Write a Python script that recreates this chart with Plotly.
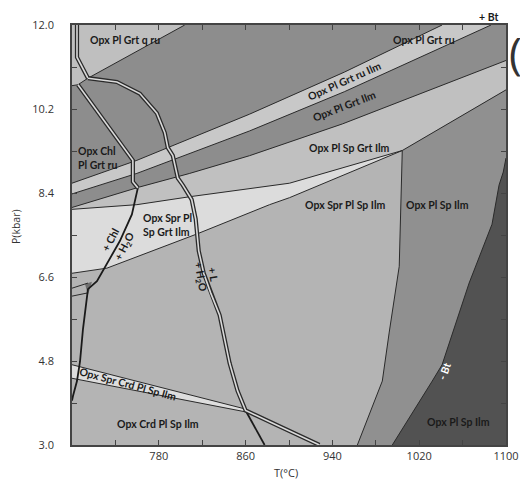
import plotly.graph_objects as go

# ---------------- axis ticks ----------------
T_TICKS = [740, 780, 820, 860, 900, 940, 980, 1020, 1060, 1100]
T_TICK_LABELS = ["", "780", "", "860", "", "940", "", "1020", "", "1100"]
P_TICKS = [3.0, 3.9, 4.8, 5.7, 6.6, 7.5, 8.4, 9.3, 10.2, 11.1, 12.0]
P_TICK_LABELS = ["3.0", "", "4.8", "", "6.6", "", "8.4", "", "10.2", "", "12.0"]

# ---------------- field boundaries (T in °C, P in kbar) ----------------
LINE_A_T = [1041.1, 951.0, 863.7, 808.5, 759.8, 700.0]
LINE_A_P = [12.0, 10.99, 10.09, 9.56, 9.10, 8.61]
LINE_B_T = [1086.2, 951.0, 863.7, 808.5, 759.8, 700.0]
LINE_B_P = [12.0, 10.57, 9.73, 9.25, 8.82, 8.38]
LINE_C_T = [1100.0, 949.2, 863.7, 808.5, 762.5, 700.0]
LINE_C_P = [11.24, 9.88, 9.20, 8.82, 8.53, 8.09]
LINE_D_T = [1100.0, 1004.4]
LINE_D_P = [10.61, 9.31]
WEDGE_UP_T = [1004.4, 900.5, 808.5, 759.8, 700.0]
WEDGE_UP_P = [9.31, 8.61, 8.32, 8.15, 8.05]
WEDGE_LO_T = [1004.4, 900.5, 882.1, 814.9, 732.2, 700.0]
WEDGE_LO_P = [9.31, 8.30, 8.15, 7.52, 6.79, 6.68]
SPR_OUT_T = [1004.4, 1003.4, 1001.6, 992.4, 986.0, 963.0]
SPR_OUT_P = [9.31, 8.57, 6.83, 5.42, 4.37, 3.0]
BT_OUT_T = [1100.0, 1097.5, 1093.6, 1087.1, 1066.0, 1041.1, 1032.0, 995.2]
BT_OUT_P = [9.15, 8.85, 8.57, 7.73, 6.47, 4.72, 4.37, 3.0]
QRU_T = [803.9, 714.7, 705.5, 700.0]
QRU_P = [12.0, 10.86, 10.72, 10.70]
TOPLEFT_T = [704.6, 704.6, 714.7]
TOPLEFT_P = [12.0, 11.31, 10.86]
CHL_EDGE_T = [705.5, 756.1, 756.1, 760.7]
CHL_EDGE_P = [10.72, 9.10, 8.64, 8.51]
CHL_OUT_T = [760.7, 755.2, 744.1, 732.2, 723.0, 714.7, 710.1, 707.4, 704.6, 700.9, 700.0]
CHL_OUT_P = [8.51, 7.94, 7.37, 6.89, 6.51, 6.34, 5.48, 4.79, 4.37, 4.05, 3.95]
MELT_T = [714.7, 741.4, 762.5, 778.2, 785.5, 788.3, 792.9, 797.5, 802.1, 810.3,
          814.0, 816.8, 821.4, 827.8, 836.1, 845.3, 852.6, 860.0, 882.1, 928.0]
MELT_P = [10.86, 10.78, 10.53, 10.11, 9.69, 9.37, 9.20, 8.72, 8.57, 8.26,
          7.84, 7.16, 6.68, 6.26, 5.78, 4.75, 4.16, 3.74, 3.50, 3.0]
CRD_UP_T = [700.0, 860.0]
CRD_UP_P = [4.72, 3.77]
CRD_LO_T = [700.0, 860.0]
CRD_LO_P = [4.43, 3.71]
CRD_TAIL_T = [860.0, 877.5]
CRD_TAIL_P = [3.74, 3.0]
SMALL_1_T = [700.0, 714.7]
SMALL_1_P = [6.36, 6.47]
SMALL_2_T = [700.0, 714.7]
SMALL_2_P = [6.19, 6.26]
SMALL_TRI_T = [712.0, 718.4, 714.7]
SMALL_TRI_P = [6.45, 6.50, 6.22]

# ---------------- field labels ----------------
LABELS = [
    # text, T, P, angle, colour
    ("Opx Pl Grt q ru", 748.7, 11.68, 0, "#1a1a1a"),
    ("Opx Pl Grt ru", 1024.6, 11.68, 0, "#1a1a1a"),
    ("Opx Pl Grt ru Ilm", 951.0, 10.80, -24, "#1a1a1a"),
    ("Opx Pl Grt Ilm", 951.0, 10.27, -21, "#1a1a1a"),
    ("Opx Pl Sp Grt Ilm", 955.6, 9.37, 0, "#1a1a1a"),
    ("Opx Chl<br>Pl Grt ru", 723.5, 9.16, 0, "#1a1a1a"),
    ("Opx Spr Pl<br>Sp Grt Ilm", 788.0, 7.71, 0, "#1a1a1a"),
    ("Opx Spr Pl Sp Ilm", 952.0, 8.15, 0, "#1a1a1a"),
    ("Opx Pl Sp Ilm", 1036.6, 8.15, 0, "#1a1a1a"),
    ("Opx Spr Crd Pl Sp Ilm", 751.5, 4.30, 15, "#1a1a1a"),
    ("Opx Crd Pl Sp Ilm", 779.0, 3.44, 0, "#1a1a1a"),
    ("Opx Pl Sp Ilm", 1055.9, 3.50, 0, "#1a1a1a"),
    ("- Bt", 1043.5, 4.58, -70, "#ffffff"),
    ("+ Chl", 735.0, 7.40, -62, "#1a1a1a"),
    ("+ H<sub>2</sub>O", 748.5, 7.25, -62, "#1a1a1a"),
    ("+ H<sub>2</sub>O", 818.0, 6.60, 80, "#1a1a1a"),
    ("+ L", 830.0, 6.66, 80, "#1a1a1a"),
]

FONT = "Lato"
LABEL_SIZE = 10.5

fig = go.Figure()


def poly(xs, ys, color):
    fig.add_trace(go.Scatter(x=xs, y=ys, fill="toself", fillcolor=color, mode="lines",
                             line=dict(width=0, color=color), hoverinfo="skip", showlegend=False))


def line(xs, ys, width=1.0, color="#2a2a2a"):
    fig.add_trace(go.Scatter(x=xs, y=ys, mode="lines", line=dict(width=width, color=color),
                             hoverinfo="skip", showlegend=False))


def dline(xs, ys):
    line(xs, ys, 4.2, "#2a2a2a")
    line(xs, ys, 1.6, "#dadada")


# fields
poly([700, 1100] + LINE_D_T + WEDGE_UP_T[1:], [12, 12] + LINE_D_P + WEDGE_UP_P[1:], "#c0c0c0")
poly([700, 1100] + LINE_C_T, [12, 12] + LINE_C_P, "#8d8d8d")
poly(LINE_A_T + LINE_B_T[::-1], LINE_A_P + LINE_B_P[::-1], "#c8c8c8")
poly([700] + QRU_T, [12] + QRU_P, "#bfbfbf")
poly(WEDGE_UP_T + WEDGE_LO_T[::-1], WEDGE_UP_P + WEDGE_LO_P[::-1], "#dcdcdc")
poly(SPR_OUT_T + [1100, 1100], SPR_OUT_P + [3.0, LINE_D_P[0]], "#909090")
poly(BT_OUT_T + [1100], BT_OUT_P + [3.0], "#525252")
poly(CRD_UP_T + CRD_LO_T[::-1], CRD_UP_P + CRD_LO_P[::-1], "#dedede")
poly(SMALL_TRI_T, SMALL_TRI_P, "#6e6e6e")

# boundaries
for xs, ys in [(LINE_A_T, LINE_A_P), (LINE_B_T, LINE_B_P), (LINE_C_T, LINE_C_P),
               (LINE_D_T, LINE_D_P), (WEDGE_UP_T, WEDGE_UP_P), (WEDGE_LO_T, WEDGE_LO_P),
               (SPR_OUT_T, SPR_OUT_P), (BT_OUT_T, BT_OUT_P), (QRU_T, QRU_P),
               (CRD_UP_T, CRD_UP_P), (CRD_LO_T, CRD_LO_P), (SMALL_1_T, SMALL_1_P),
               (SMALL_2_T, SMALL_2_P)]:
    line(xs, ys)
line(CHL_OUT_T, CHL_OUT_P, 1.8, "#1a1a1a")
line(CRD_TAIL_T, CRD_TAIL_P, 1.8, "#1a1a1a")
dline(TOPLEFT_T, TOPLEFT_P)
dline(CHL_EDGE_T, CHL_EDGE_P)
dline(MELT_T, MELT_P)

for text, t, p, ang, col in LABELS:
    fig.add_annotation(x=t, y=p, text="<b>" + text + "</b>", showarrow=False, textangle=ang,
                       font=dict(family=FONT, size=LABEL_SIZE, color=col), align="left")

# outside texts (explicit anchors so the boxes are centred on the given points)
outside = dict(xref="paper", yref="paper", showarrow=False, xanchor="center", yanchor="middle")
fig.add_annotation(x=0.9586, y=1.0187, text="<b>+ Bt</b>",
                   font=dict(family=FONT, size=LABEL_SIZE, color="#1a1a1a"), **outside)
fig.add_annotation(x=1.021, y=0.935, text="(",
                   font=dict(family="Open Sans", size=44, color="#333333"), **outside)
fig.add_annotation(x=0.492, y=-0.0654, text="T(°C)",
                   font=dict(family="Open Sans", size=11, color="#333333"), **outside)
fig.add_annotation(x=-0.129, y=0.519, text="P(kbar)", textangle=-90,
                   font=dict(family="Open Sans", size=10.5, color="#333333"), **outside)

axis_common = dict(ticks="inside", ticklen=5, tickwidth=1, tickcolor="#444", showline=True,
                   linecolor="#444", linewidth=1.5, mirror="ticks", showgrid=False, zeroline=False,
                   tickfont=dict(family="Open Sans", size=11, color="#333333"))
# page body adds an 8px offset, so the figure is 8px smaller and shifted accordingly
fig.update_layout(
    width=520, height=476,
    margin=dict(l=64, r=21, t=9, b=39),
    paper_bgcolor="white", plot_bgcolor="#b4b4b4",
    xaxis=dict(range=[700, 1100], tickmode="array", tickvals=T_TICKS, ticktext=T_TICK_LABELS,
               ticklabelstandoff=0, **axis_common),
    yaxis=dict(range=[3.0, 12.0], tickmode="array", tickvals=P_TICKS, ticktext=P_TICK_LABELS,
               ticklabelstandoff=14, **axis_common),
    showlegend=False,
)
fig.write_html("out.html")
